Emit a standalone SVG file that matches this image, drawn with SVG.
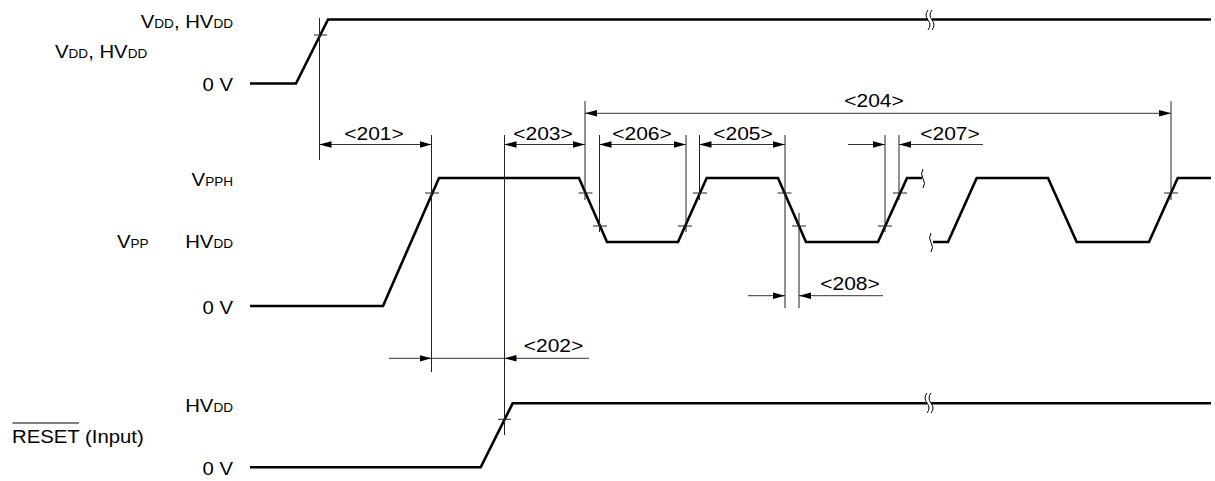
<svg xmlns="http://www.w3.org/2000/svg" width="1215" height="481" viewBox="0 0 1215 481">
<style>
.sig{fill:none;stroke:#000;stroke-width:2.6;stroke-linejoin:miter}
.thin{fill:none;stroke:#222;stroke-width:1}
.dim{fill:none;stroke:#333;stroke-width:1}
.brk{fill:none;stroke:#000;stroke-width:1}
.lbl{font-family:"Liberation Sans",Arial,sans-serif;font-size:18px;fill:#000}
.sub{font-size:12px}
.dl{font-family:"Liberation Sans",Arial,sans-serif;font-size:17.5px;fill:#000;text-anchor:middle}
</style>
<defs>
<marker id="ah" markerUnits="userSpaceOnUse" markerWidth="12" markerHeight="8" refX="12" refY="4" orient="auto-start-reverse" viewBox="0 0 12 8">
<path d="M0,0.7 L12,4 L0,7.3 z" fill="#000"/>
</marker>
</defs>
<rect width="1215" height="481" fill="#fff"/>

<g id="labels">
<text class="lbl" text-anchor="end" transform="translate(233,28) scale(1.13,1)">V<tspan class="sub">DD</tspan>, HV<tspan class="sub">DD</tspan></text>
<text class="lbl" text-anchor="start" transform="translate(55,58) scale(1.13,1)">V<tspan class="sub">DD</tspan>, HV<tspan class="sub">DD</tspan></text>
<text class="lbl" text-anchor="end" transform="translate(233,91) scale(1.13,1)">0 V</text>
<text class="lbl" text-anchor="end" transform="translate(233,186) scale(1.13,1)">V<tspan class="sub">PPH</tspan></text>
<text class="lbl" text-anchor="start" transform="translate(117,248) scale(1.13,1)">V<tspan class="sub">PP</tspan></text>
<text class="lbl" text-anchor="end" transform="translate(233,248) scale(1.13,1)">HV<tspan class="sub">DD</tspan></text>
<text class="lbl" text-anchor="end" transform="translate(233,314) scale(1.13,1)">0 V</text>
<text class="lbl" text-anchor="end" transform="translate(233,412) scale(1.13,1)">HV<tspan class="sub">DD</tspan></text>
<text class="lbl" text-anchor="start" transform="translate(12,443) scale(1.13,1)">RESET (Input)</text>
<line x1="12.5" y1="423" x2="79" y2="423" stroke="#000" stroke-width="1.2"/>
<text class="lbl" text-anchor="end" transform="translate(233,475) scale(1.13,1)">0 V</text>
</g>

<g id="vdd">
<polyline class="sig" points="250,83.5 296,83.5 328,19.5 928,19.5"/>
<line class="sig" x1="932" y1="19.5" x2="1211" y2="19.5"/>
<path class="brk" d="M928,10 q-4,5 0,10 q4,5 0,10 M932,10 q-4,5 0,10 q4,5 0,10"/>
<line class="thin" x1="314" y1="35" x2="327" y2="35"/>
</g>

<g id="vpp">
<polyline class="sig" points="250,306 383,306 439,178 579,178 607,242 678,242 706.7,178 778,178 806,242 878,242 907,178 922,178"/>
<polyline class="sig" points="933,242 948,242 976.7,178 1048,178 1076.7,242 1149,242 1177.7,178 1211,178"/>
<path class="brk" d="M923,169 q-3,5 0,9.5 q3,5 0,9.5 M931,233 q-3,5 0,9.5 q3,5 0,9.5"/>
<g class="thin">
<line x1="425" y1="193" x2="439" y2="193"/>
<line x1="578.5" y1="193" x2="592.5" y2="193"/>
<line x1="593" y1="226" x2="607" y2="226"/>
<line x1="678" y1="226" x2="692" y2="226"/>
<line x1="693" y1="193" x2="707" y2="193"/>
<line x1="777.5" y1="193" x2="791.5" y2="193"/>
<line x1="792" y1="226" x2="806" y2="226"/>
<line x1="878" y1="226" x2="892" y2="226"/>
<line x1="893" y1="193" x2="907" y2="193"/>
<line x1="1164" y1="193" x2="1178" y2="193"/>
</g>
</g>

<g id="reset">
<polyline class="sig" points="250,467.3 480.7,467.3 512.7,403.3 927,403.3"/>
<line class="sig" x1="931" y1="403.3" x2="1211" y2="403.3"/>
<path class="brk" d="M927,393 q-4,5 0,10 q4,5 0,10 M931,393 q-4,5 0,10 q4,5 0,10"/>
<line class="thin" x1="498" y1="419.3" x2="511" y2="419.3"/>
</g>

<g id="connectors">
<g class="thin">
<line x1="319.5" y1="18" x2="319.5" y2="160"/>
<line x1="431.5" y1="135" x2="431.5" y2="372"/>
<line x1="504.5" y1="135" x2="504.5" y2="435"/>
<line x1="585" y1="101" x2="585" y2="200"/>
<line x1="599.5" y1="135" x2="599.5" y2="232"/>
<line x1="686" y1="135" x2="686" y2="232"/>
<line x1="699.5" y1="135" x2="699.5" y2="200"/>
<line x1="785" y1="135" x2="785" y2="308"/>
<line x1="799" y1="213" x2="799" y2="308"/>
<line x1="885" y1="135" x2="885" y2="232"/>
<line x1="899" y1="135" x2="899" y2="200"/>
<line x1="1171" y1="101" x2="1171" y2="200"/>
</g>
<g class="dim">
<line x1="585" y1="113.3" x2="1171" y2="113.3" marker-start="url(#ah)" marker-end="url(#ah)"/>
<line x1="319.5" y1="144.5" x2="431.5" y2="144.5" marker-start="url(#ah)" marker-end="url(#ah)"/>
<line x1="504.5" y1="144.5" x2="585" y2="144.5" marker-start="url(#ah)" marker-end="url(#ah)"/>
<line x1="599.5" y1="144.5" x2="686" y2="144.5" marker-start="url(#ah)" marker-end="url(#ah)"/>
<line x1="699.5" y1="144.5" x2="785" y2="144.5" marker-start="url(#ah)" marker-end="url(#ah)"/>
<line x1="848" y1="144.5" x2="885" y2="144.5" marker-end="url(#ah)"/>
<line x1="983" y1="144.5" x2="899" y2="144.5" marker-end="url(#ah)"/>
<line x1="748" y1="295.7" x2="785" y2="295.7" marker-end="url(#ah)"/>
<line x1="883" y1="295.7" x2="799" y2="295.7" marker-end="url(#ah)"/>
<line x1="389" y1="358.3" x2="431.5" y2="358.3" marker-end="url(#ah)"/>
<line x1="431.5" y1="358.3" x2="504.5" y2="358.3"/>
<line x1="589" y1="358.3" x2="504.5" y2="358.3" marker-end="url(#ah)"/>
</g>
<text class="dl" transform="translate(874,107) scale(1.2,1)">&lt;204&gt;</text>
<text class="dl" transform="translate(374,140) scale(1.2,1)">&lt;201&gt;</text>
<text class="dl" transform="translate(543,140) scale(1.2,1)">&lt;203&gt;</text>
<text class="dl" transform="translate(642,140) scale(1.2,1)">&lt;206&gt;</text>
<text class="dl" transform="translate(743,140) scale(1.2,1)">&lt;205&gt;</text>
<text class="dl" transform="translate(950,140) scale(1.2,1)">&lt;207&gt;</text>
<text class="dl" transform="translate(850,290) scale(1.2,1)">&lt;208&gt;</text>
<text class="dl" transform="translate(553.5,352) scale(1.2,1)">&lt;202&gt;</text>
</g>
</svg>
